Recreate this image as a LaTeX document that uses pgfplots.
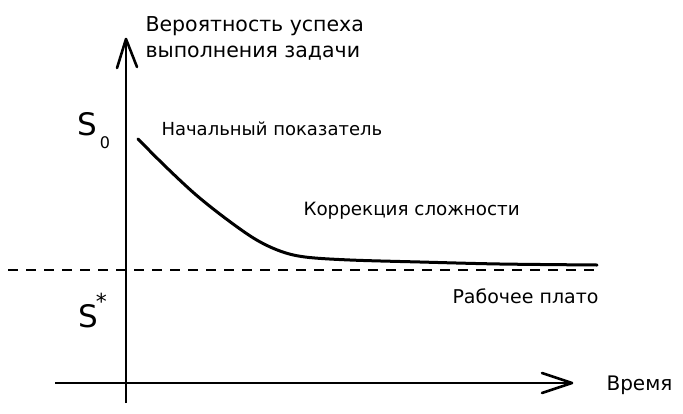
\documentclass[border=0pt]{standalone}
\usepackage{pgfplots}
\pgfplotsset{compat=1.18}
\usepackage{fontspec}
\setmainfont{DejaVu Sans}
\begin{document}
\begin{tikzpicture}
\begin{axis}[width=683pt,height=413pt,scale only axis,
  xmin=0,xmax=683,ymin=0,ymax=413,y dir=reverse,
  hide axis,clip=false]
\path (axis cs:0,0) rectangle (axis cs:683,413);
% axes
\addplot[black,line width=2.6pt] coordinates {(126,403) (126,40)};
\addplot[black,line width=2.6pt,line join=round,line cap=round] coordinates {(117,68) (126,39) (137,67)};
\addplot[black,line width=2.6pt] coordinates {(55,383) (571,383)};
\addplot[black,line width=2.6pt,line join=round,line cap=round] coordinates {(542,373) (572,383) (542,393)};
% plateau
\addplot[black,line width=2.3pt,dash pattern=on 10pt off 8pt] coordinates {(8,270) (598,270)};
% curve
\addplot[black,line width=3pt,smooth,tension=0.55,line cap=round] coordinates {
(138,139) (165,166) (195,194) (225,218) (255,239) (280,251) (305,257)
(350,260) (420,262) (500,264) (597,265)};
% labels
\node[anchor=west,font=\fontsize{20.5}{26}\selectfont,align=left] at (axis cs:142,38)
 {Вероятность успеха\\выполнения задачи};
\node[anchor=base west,inner sep=0pt,font=\fontsize{31}{34}\selectfont] at (axis cs:77,135)
 {S\hspace{3pt}\raisebox{-13pt}{\fontsize{16}{18}\selectfont 0}};
\node[anchor=base west,inner sep=0pt,font=\fontsize{31}{34}\selectfont] at (axis cs:78,327)
 {S\hspace{-2pt}\raisebox{18pt}{\fontsize{22}{22}\selectfont *}};
\node[anchor=west,font=\fontsize{18}{22}\selectfont] at (axis cs:158,129) {Начальный показатель};
\node[anchor=west,font=\fontsize{18.3}{22}\selectfont] at (axis cs:300,211) {Коррекция сложности};
\node[anchor=west,font=\fontsize{19}{22}\selectfont] at (axis cs:449,296) {Рабочее плато};
\node[anchor=west,font=\fontsize{20}{22}\selectfont] at (axis cs:603,385) {Время};
\end{axis}
\end{tikzpicture}
\end{document}
